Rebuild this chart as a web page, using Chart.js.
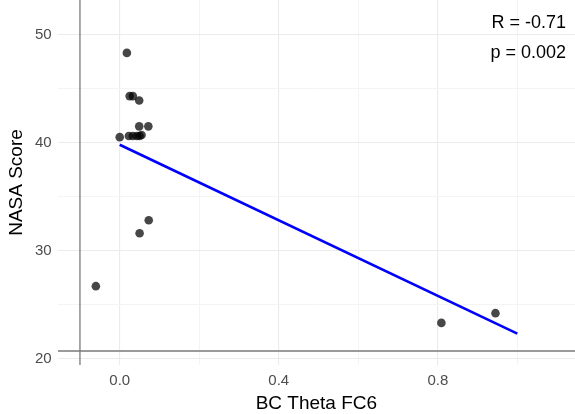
<!DOCTYPE html>
<html>
<head>
<meta charset="utf-8">
<title>NASA Score vs BC Theta FC6</title>
<script src="https://cdn.jsdelivr.net/npm/chart.js@4.4.1/dist/chart.umd.min.js"></script>
<style>
    html, body { margin: 0; padding: 0; background: #ffffff; }
    #wrap { width: 575px; height: 414px; }
</style>
</head>
<body>
<div id="wrap"><canvas id="corrChart" width="575" height="414"></canvas></div>
<script>
// Data
const bcTheta = [0.018, 0.025, 0.033, 0.049, 0.049, 0.072, 0.0, 0.023, 0.033, 0.043, 0.050, 0.055, 0.073, 0.050, -0.060, 0.809, 0.945];
const nasaScore = [48.3, 44.3, 44.3, 43.9, 41.5, 41.5, 40.5, 40.6, 40.6, 40.6, 40.6, 40.7, 32.8, 31.6, 26.7, 23.3, 24.2];

// fitted regression line (endpoints as drawn)
const fitX = [0.0, 1.0];
const fitY = [39.8, 22.3];

// reference lines
const vlineX = -0.1;
const hlineY = 20.7;

const xMin = -0.156, xMax = 1.145;
const yMin = 19.4, yMax = 53.2;
const xTicks = [0.0, 0.2, 0.4, 0.6, 0.8, 1.0];
const xMajor = [0.0, 0.4, 0.8];
const yTicks = [20, 25, 30, 35, 40, 45, 50];
const yMajor = [20, 30, 40, 50];

const statLines = ['R = -0.71', 'p = 0.002'];

const FONT = '"Liberation Sans", Arial, Helvetica, sans-serif';

function isMajor(list, v) {
    return list.some(m => Math.abs(m - v) < 1e-6);
}

// no extra room for half tick labels at the ends of the axes
function noEdgePadding(scale) {
    scale.paddingTop = 0;
    scale.paddingBottom = 0;
    scale.paddingLeft = 0;
    scale.paddingRight = 0;
}

// Correlation label in the top right corner
const statLabel = {
    id: 'statLabel',
    afterDraw(chart) {
        const ctx = chart.ctx;
        ctx.save();
        ctx.fillStyle = '#000000';
        ctx.font = '18px ' + FONT;
        ctx.textAlign = 'right';
        ctx.textBaseline = 'alphabetic';
        ctx.fillText(statLines[0], 566, 28);
        ctx.fillText(statLines[1], 566, 58);
        ctx.restore();
    }
};

document.addEventListener('DOMContentLoaded', function() {
    const points = bcTheta.map((x, i) => ({ x: x, y: nasaScore[i] }));
    const fit = fitX.map((x, i) => ({ x: x, y: fitY[i] }));

    const ctx = document.getElementById('corrChart').getContext('2d');
    new Chart(ctx, {
        type: 'scatter',
        data: {
            datasets: [
                {
                    label: 'fit',
                    data: fit,
                    showLine: true,
                    borderColor: '#0000ff',
                    borderWidth: 2.6,
                    pointRadius: 0,
                    order: 1
                },
                {
                    label: 'NASA Score',
                    data: points,
                    backgroundColor: 'rgba(0,0,0,0.72)',
                    borderWidth: 0,
                    pointRadius: 4.3,
                    order: 2
                },
                {
                    label: 'vline',
                    data: [{ x: vlineX, y: yMin }, { x: vlineX, y: yMax }],
                    showLine: true,
                    borderColor: '#7a7a7a',
                    borderWidth: 1.3,
                    pointRadius: 0,
                    order: 3
                },
                {
                    label: 'hline',
                    data: [{ x: xMin, y: hlineY }, { x: xMax, y: hlineY }],
                    showLine: true,
                    borderColor: '#9a9a9a',
                    borderWidth: 2,
                    pointRadius: 0,
                    order: 3
                }
            ]
        },
        options: {
            responsive: false,
            animation: false,
            layout: { autoPadding: false, padding: { left: 4, right: 0, top: 0, bottom: 0 } },
            plugins: {
                legend: { display: false },
                tooltip: { enabled: false }
            },
            scales: {
                x: {
                    type: 'linear',
                    min: xMin,
                    max: xMax,
                    afterBuildTicks: scale => { scale.ticks = xTicks.map(v => ({ value: v })); },
                    afterFit: noEdgePadding,
                    border: { display: false },
                    grid: {
                        drawTicks: false,
                        color: c => isMajor(xMajor, c.tick.value) ? '#ebebeb' : '#f4f4f4',
                        lineWidth: c => isMajor(xMajor, c.tick.value) ? 1.1 : 1
                    },
                    ticks: {
                        padding: 8,
                        color: '#4d4d4d',
                        font: { family: FONT, size: 15, lineHeight: 1 },
                        maxRotation: 0,
                        autoSkip: false,
                        callback: v => isMajor(xMajor, v) ? v.toFixed(1) : ''
                    },
                    title: {
                        display: true,
                        text: 'BC Theta FC6',
                        color: '#000000',
                        font: { family: FONT, size: 19, lineHeight: 1 },
                        padding: { top: -2, bottom: 1 }
                    }
                },
                y: {
                    type: 'linear',
                    min: yMin,
                    max: yMax,
                    afterBuildTicks: scale => { scale.ticks = yTicks.map(v => ({ value: v })); },
                    afterFit: noEdgePadding,
                    border: { display: false },
                    grid: {
                        drawTicks: false,
                        color: c => isMajor(yMajor, c.tick.value) ? '#ebebeb' : '#f4f4f4',
                        lineWidth: c => isMajor(yMajor, c.tick.value) ? 1.1 : 1
                    },
                    ticks: {
                        padding: 6,
                        color: '#4d4d4d',
                        font: { family: FONT, size: 15, lineHeight: 1 },
                        autoSkip: false,
                        callback: v => isMajor(yMajor, v) ? String(v) : ''
                    },
                    title: {
                        display: true,
                        text: 'NASA Score',
                        color: '#000000',
                        font: { family: FONT, size: 19, lineHeight: 1 },
                        padding: { top: 3, bottom: 3 }
                    }
                }
            }
        },
        plugins: [statLabel]
    });
});
</script>
</body>
</html>
